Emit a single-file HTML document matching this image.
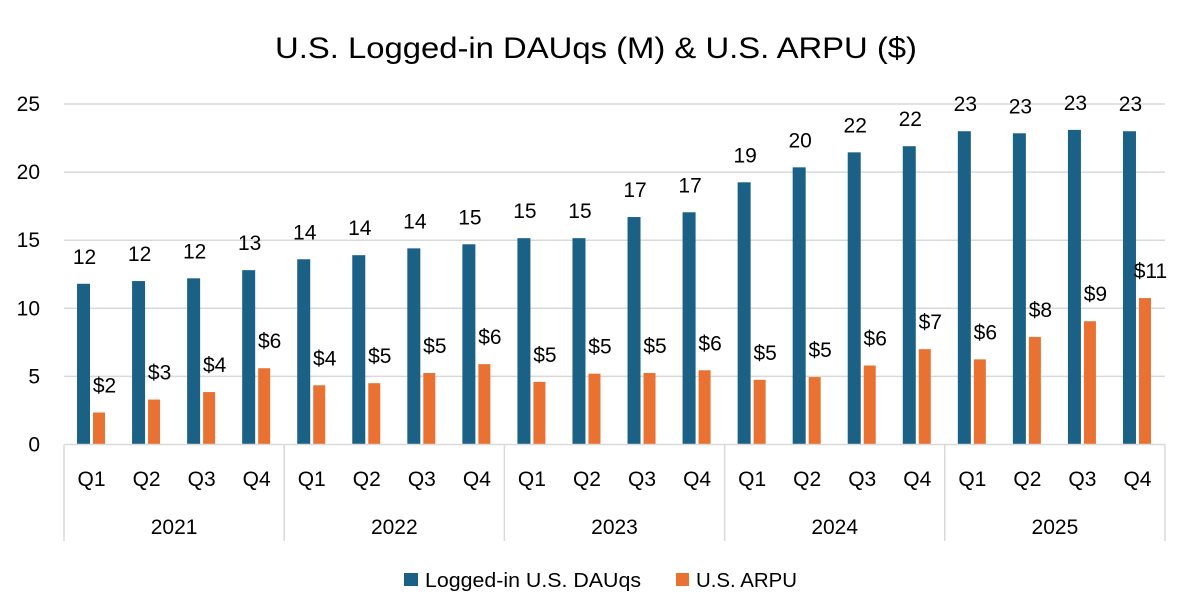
<!DOCTYPE html>
<html><head><meta charset="utf-8"><style>
body{margin:0;background:#fff;}
svg{display:block;font-family:"Liberation Sans",sans-serif;}
</style></head><body>
<svg id="chart" width="1192" height="615" viewBox="0 0 1192 615">
<rect width="1192" height="615" fill="#fff"/>
<text x="275" y="58" textLength="642" lengthAdjust="spacingAndGlyphs" font-size="30" fill="#000">U.S. Logged-in DAUqs (M) &amp; U.S. ARPU ($)</text>
<g id="grid"></g><g id="bars"></g><g id="labels"></g><g id="axis"></g>
<g>
<rect x="404" y="573" width="14" height="13" fill="#1a6185"/>
<text x="425" y="587" textLength="216" lengthAdjust="spacingAndGlyphs" font-size="20" fill="#000">Logged-in U.S. DAUqs</text>
<rect x="676" y="573" width="13" height="13" fill="#e97132"/>
<text x="696" y="587" textLength="101" lengthAdjust="spacingAndGlyphs" font-size="20" fill="#000">U.S. ARPU</text>
</g>
</svg>
<script>
const years = ["2021","2022","2023","2024","2025"];
const quarters = ["Q1","Q2","Q3","Q4"];
const dauqs = [11.8,12.0,12.2,12.8,13.6,13.9,14.4,14.7,15.15,15.15,16.7,17.05,19.25,20.35,21.45,21.9,23.0,22.85,23.1,23.0];
const arpu = [2.35,3.3,3.85,5.6,4.35,4.5,5.25,5.9,4.6,5.2,5.25,5.45,4.75,4.95,5.8,7.0,6.25,7.9,9.05,10.75];
const dauqsLabels = ["12","12","12","13","14","14","14","15","15","15","17","17","19","20","22","22","23","23","23","23"];
const arpuLabels = ["$2","$3","$4","$6","$4","$5","$5","$6","$5","$5","$5","$6","$5","$5","$6","$7","$6","$8","$9","$11"];
const yTicks = [0,5,10,15,20,25];

const NS="http://www.w3.org/2000/svg";
const x0=64, x1=1165, y0=444.5, yTop=104;
const n=dauqs.length, cw=(x1-x0)/n;
const FS=21;
const ys=v=>y0-(v/25)*(y0-yTop);
const xc=i=>x0+cw*(i+0.5);
function mk(tag,attrs,parent){const e=document.createElementNS(NS,tag);for(const k in attrs)e.setAttribute(k,attrs[k]);document.getElementById(parent).appendChild(e);return e;}

yTicks.forEach(t=>{
  if(t>0){const l=mk('line',{x1:x0,x2:x1,y1:ys(t),y2:ys(t),stroke:'#d9d9d9','stroke-width':1.5},'grid');
  
  }
  const tx=mk('text',{x:40,y:ys(t)+7,'text-anchor':'end','font-size':FS,fill:'#000'},'axis');
  tx.textContent=t;
  
  
});
for(let i=0;i<n;i++){
  const c=xc(i);
  const b=mk('rect',{x:c-14.5,y:ys(dauqs[i]),width:13,height:y0-ys(dauqs[i]),fill:'#1a6185'},'bars');
  
  
  const o=mk('rect',{x:c+1.5,y:ys(arpu[i]),width:12,height:y0-ys(arpu[i]),fill:'#e97132'},'bars');
  
  
  const l1=mk('text',{x:c-7,y:ys(dauqs[i])-20,'text-anchor':'middle','font-size':FS,fill:'#000'},'labels');
  l1.textContent=dauqsLabels[i];
  
  
  const l2=mk('text',{x:c+13,y:ys(arpu[i])-20,'text-anchor':'middle','font-size':FS,fill:'#000'},'labels');
  l2.textContent=arpuLabels[i];
  
  
  const q=mk('text',{x:c,y:486,'text-anchor':'middle','font-size':FS,fill:'#000'},'axis');
  q.textContent=quarters[i%4];
  
  
}
const ax=mk('line',{x1:x0,x2:x1,y1:y0,y2:y0,stroke:'#d9d9d9','stroke-width':1.5},'axis');


for(let k=0;k<=years.length;k++){
  const xx=x0+cw*4*k;
  const d=mk('line',{x1:xx,x2:xx,y1:y0,y2:541,stroke:'#d9d9d9','stroke-width':1.5},'axis');
  
  
  if(k<years.length){
    const yt=mk('text',{x:xx+cw*2,y:534,'text-anchor':'middle','font-size':FS,fill:'#000'},'axis');
    yt.textContent=years[k];
    
    
  }
}
</script>
</body></html>
